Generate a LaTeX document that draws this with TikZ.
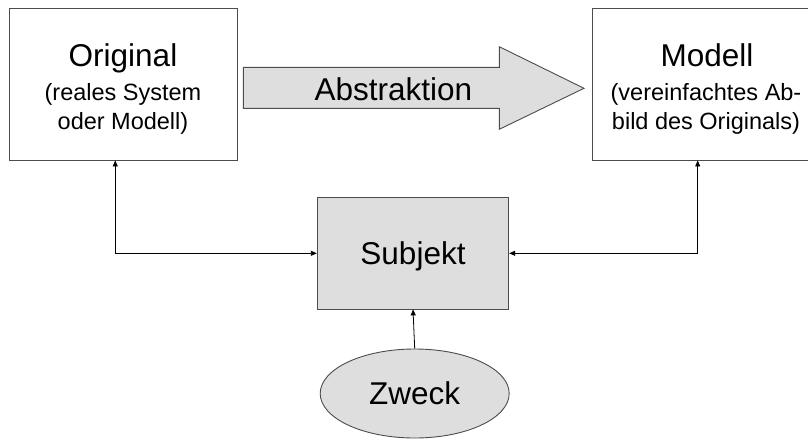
\documentclass[tikz,border=0pt]{standalone}
\usepackage{fontspec}
\setmainfont{Liberation Sans}
\usetikzlibrary{arrows.meta,shapes.geometric}

\begin{document}
\begin{tikzpicture}[x=1pt,y=-1pt,
  frame/.style={draw=black!70, line width=0.9pt, rectangle, inner sep=0pt},
  shaded/.style={fill=black!13},
  big/.style={font=\fontsize{31.5}{36}\selectfont},
  small/.style={font=\fontsize{23.5}{28}\selectfont},
  txt/.style={anchor=base, inner sep=0pt},
  link/.style={draw=black, line width=0.8pt, {Triangle[length=6pt,width=5pt]}-{Triangle[length=6pt,width=5pt]}},
  onelink/.style={draw=black, line width=0.8pt, -{Triangle[length=6pt,width=5pt]}}
]
\useasboundingbox (0,0) rectangle (808,439);
\clip (0,0) rectangle (808,439);

% the two main boxes
\node[frame, minimum width=227.5pt, minimum height=152pt] (orig) at (123.25,84) {};
\node[frame, minimum width=227.5pt, minimum height=152pt] (mod) at (706.45,84) {};

\node[txt, big] (origT) at (123,66.7) {Original};
\node[txt, small] (origA) at (123,100.5) {(reales System};
\node[txt, small] (origB) at (123,129) {oder Modell)};

\node[txt, big] (modT) at (707,66.7) {Modell};
\node[txt, small] (modA) at (706,100.5) {(vereinfachtes Ab-};
\node[txt, small] (modB) at (706,129) {bild des Originals)};

% block arrow
\draw[draw=black!70, shaded, line width=0.9pt]
  (243.3,67.3) -- (499.3,67.3) -- (499.3,46.7) -- (584,88.3)
  -- (499.3,129.3) -- (499.3,108.3) -- (243.3,108.3) -- cycle;
\node[txt, big] (abs) at (393.3,100) {Abstraktion};

% subject and purpose
\node[frame, shaded, minimum width=191.4pt, minimum height=111.3pt, big,
      text height=22.6pt, text depth=0pt] (subj) at (413,253.3) {Subjekt};
\node[ellipse, draw=black!70, line width=0.9pt, shaded, inner sep=0pt,
      minimum width=189pt, minimum height=89pt, big,
      text height=22.6pt, text depth=0pt] (zweck) at (414.7,393.5) {Zweck};

% connectors
\draw[link] ([xshift=-8pt]orig.south) |- (subj.west);
\draw[link] ([xshift=-8.75pt]mod.south) |- (subj.east);
\draw[onelink] (zweck.north) -- (subj.south);
\end{tikzpicture}
\end{document}
